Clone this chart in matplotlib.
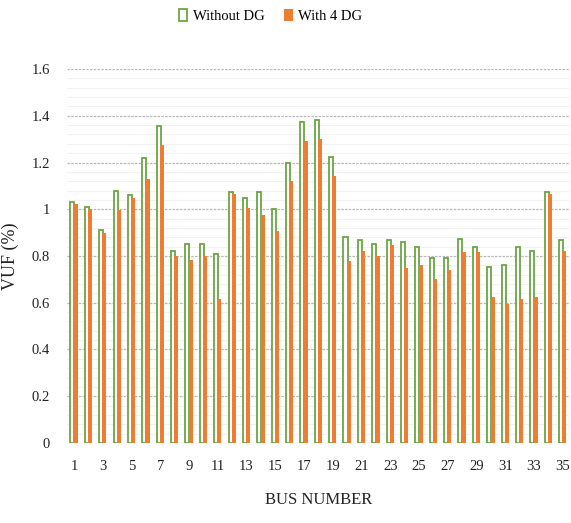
import matplotlib
matplotlib.use("Agg")
import matplotlib.pyplot as plt
import numpy as np
from matplotlib.ticker import MultipleLocator

buses = list(range(1, 36))
without_dg = [1.03, 1.01, 0.91, 1.08, 1.06, 1.22, 1.355, 0.82, 0.85, 0.85, 0.81,
              1.073, 1.048, 1.073, 1.00, 1.20, 1.375, 1.383, 1.224, 0.883, 0.867,
              0.853, 0.867, 0.86, 0.84, 0.792, 0.792, 0.874, 0.837, 0.753, 0.762,
              0.837, 0.821, 1.073, 0.867]
with_4dg = [1.024, 1.003, 0.90, 0.998, 1.05, 1.128, 1.274, 0.80, 0.785, 0.80, 0.615,
            1.064, 1.007, 0.977, 0.907, 1.121, 1.292, 1.302, 1.142, 0.779, 0.82,
            0.80, 0.846, 0.747, 0.76, 0.70, 0.742, 0.817, 0.816, 0.625, 0.596,
            0.618, 0.625, 1.064, 0.82]
ytick_vals = [0, 0.2, 0.4, 0.6, 0.8, 1.0, 1.2, 1.4, 1.6]
ytick_labels = ["0", "0.2", "0.4", "0.6", "0.8", "1", "1.2", "1.4", "1.6"]
xtick_labels = [str(b) for b in buses if b % 2 == 1]

plt.rcParams['font.family'] = ['Liberation Serif', 'DejaVu Serif']

fig = plt.figure(figsize=(5.71, 5.23), dpi=100)
ax = fig.add_axes([0.117, 0.153, 0.881, 0.715])

x = np.arange(len(buses))
w = 0.28
ax.bar(x - 0.11, without_dg, width=w, facecolor='white', edgecolor='#6BA544',
       linewidth=1.3, label='Without DG', zorder=3)
ax.bar(x + 0.12, with_4dg, width=w, color='#ED7D31', label='With 4 DG', zorder=4)

ax.set_ylim(0, 1.6)
ax.set_xlim(-0.5, len(buses) - 0.5)
ax.set_yticks(ytick_vals)
ax.set_yticklabels(ytick_labels)
ax.yaxis.set_minor_locator(MultipleLocator(0.04))
ax.set_xticks([i for i, b in enumerate(buses) if b % 2 == 1])
ax.set_xticklabels(xtick_labels)
ax.tick_params(axis='both', which='both', length=0, labelsize=10.5, colors='#222222')
ax.tick_params(axis='x', pad=12)
ax.tick_params(axis='y', pad=12)

ax.grid(axis='y', which='major', color='#b8b8b8', linestyle=(0, (2, 1)), linewidth=0.9, zorder=0)
ax.grid(axis='y', which='minor', color='#f2f2f2', linestyle='-', linewidth=0.8, zorder=0)
for s in ax.spines.values():
    s.set_visible(False)

ax.set_xlabel('BUS NUMBER', fontsize=12, labelpad=14, color='#222222')
ax.set_ylabel('VUF (%)', fontsize=13, color='#222222')
ax.yaxis.set_label_coords(-0.095, 0.5)

ax.legend(loc='upper center', bbox_to_anchor=(0.405, 1.195), ncol=2, frameon=False,
          fontsize=10.5, handlelength=0.6, handleheight=0.9, columnspacing=1.3,
          handletextpad=0.4)

fig.savefig('out.png', dpi=100)
